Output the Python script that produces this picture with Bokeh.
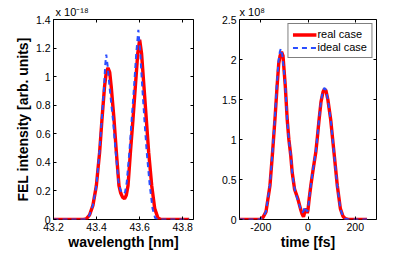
from bokeh.plotting import figure
from bokeh.layouts import row
from bokeh.models import (FixedTicker, LinearAxis, Legend, LegendItem,
                          CustomJSTickFormatter, Range1d)
from bokeh.embed import file_html
from bokeh.resources import INLINE

# ---- data ----
# left panel: spectrum (wavelength in nm, intensity in units of 1e-18)
wl_real = [43.20, 43.34, 43.352, 43.367, 43.383, 43.399, 43.414, 43.425, 43.437, 43.445,
           43.453, 43.461, 43.468, 43.481, 43.492, 43.504, 43.512, 43.521, 43.530, 43.538,
           43.546, 43.557, 43.569, 43.580, 43.591, 43.600, 43.609, 43.620, 43.631, 43.642,
           43.656, 43.670, 43.685, 43.70, 43.83]
int_real = [0, 0, 0.005, 0.03, 0.099, 0.237, 0.468, 0.70, 0.93, 1.03,
            1.062, 1.03, 0.93, 0.70, 0.468, 0.237, 0.185, 0.155, 0.146, 0.17,
            0.237, 0.468, 0.70, 0.93, 1.16, 1.259, 1.16, 0.93, 0.70, 0.468,
            0.237, 0.076, 0.01, 0, 0]
wl_ideal = [43.20, 43.34, 43.352, 43.367, 43.383, 43.399, 43.413, 43.424, 43.435, 43.440,
            43.445, 43.451, 43.460, 43.476, 43.489, 43.502, 43.510, 43.518, 43.525, 43.532,
            43.540, 43.552, 43.563, 43.574, 43.584, 43.594, 43.603, 43.612, 43.622, 43.633,
            43.647, 43.660, 43.672, 43.69, 43.83]
int_ideal = [0, 0, 0.005, 0.03, 0.099, 0.237, 0.468, 0.70, 0.93, 1.08,
             1.155, 1.08, 0.93, 0.70, 0.468, 0.26, 0.21, 0.185, 0.18, 0.19,
             0.26, 0.468, 0.70, 0.93, 1.16, 1.328, 1.16, 0.93, 0.70, 0.468,
             0.237, 0.076, 0.01, 0, 0]

# right panel: temporal profile (time in fs, power in units of 1e8)
t_real = [-290, -210, -200, -190, -178, -161, -150, -140, -131, -124,
          -118, -112, -106, -96, -88, -81, -73, -67, -57, -43,
          -32, -25, -19, -14, -8, -3, 0, 5, 12, 22,
          33, 40, 47, 55, 64, 70, 76, 84, 96, 110,
          124, 137, 148, 158, 170, 250]
p_real = [0, 0, 0.005, 0.03, 0.095, 0.425, 0.838, 1.25, 1.66, 1.946,
          2.05, 2.095, 2.05, 1.66, 1.25, 1.0, 0.80, 0.59, 0.38, 0.26,
          0.136, 0.07, 0.033, 0.09, 0.136, 0.08, 0.12, 0.26, 0.425, 0.63,
          0.84, 1.04, 1.25, 1.47, 1.60, 1.63, 1.61, 1.50, 1.25, 0.84,
          0.425, 0.136, 0.04, 0.01, 0, 0]
t_ideal = [-290, -210, -200, -190, -178, -161, -150, -140, -132, -125,
           -119, -115, -109, -100, -96, -88, -81, -73, -67, -60,
           -55, -43, -32, -25, -19, -14, -8, -3, 0, 5,
           12, 22, 33, 40, 47, 55, 63, 69, 76, 84,
           96, 110, 124, 137, 148, 158, 170, 250]
p_ideal = [0, 0, 0.005, 0.03, 0.10, 0.44, 0.86, 1.28, 1.68, 1.98,
           2.10, 2.136, 2.06, 1.80, 1.66, 1.25, 1.0, 0.80, 0.59, 0.44,
           0.36, 0.24, 0.14, 0.09, 0.10, 0.16, 0.12, 0.10, 0.13, 0.26,
           0.43, 0.64, 0.85, 1.05, 1.26, 1.48, 1.61, 1.645, 1.62, 1.50,
           1.25, 0.83, 0.42, 0.13, 0.04, 0.01, 0, 0]

x1_ticks = [43.2, 43.4, 43.6, 43.8]
y1_ticks = [0, 0.2, 0.4, 0.6, 0.8, 1, 1.2, 1.4]
x2_ticks = [-200, 0, 200]
y2_ticks = [0, 0.5, 1, 1.5, 2, 2.5]

x1_lim = (43.2, 43.85)
y1_lim = (0, 1.4)
x2_lim = (-290, 290)
y2_lim = (0, 2.5)

mult1 = "x 10\u207b\u00b9\u2078"   # x 10^-18
mult2 = "x 10\u2078"               # x 10^8
xlabel1 = "wavelength [nm]"
xlabel2 = "time [fs]"
ylabel1 = "FEL intensity [arb. units]"
labels = ["real case", "ideal case"]
colors = ["#ff0000", "#2a4dff"]

FONT = "Liberation Sans"
TICK_FS = "10.5px"
fmt_code = "return String(tick)"


def style(p, xt, yt, xlabel, mult, mult_offset):
    p.outline_line_color = "#000000"
    p.outline_line_width = 1
    p.background_fill_color = "white"
    p.border_fill_color = "white"
    p.grid.visible = False
    for ax in (p.xaxis[0], p.yaxis[0]):
        ax.axis_line_color = None
        ax.major_tick_in = 3
        ax.major_tick_out = 0
        ax.minor_tick_line_color = None
        ax.major_tick_line_color = "#000000"
        ax.major_label_text_font = FONT
        ax.major_label_text_font_size = TICK_FS
        ax.major_label_text_color = "#000000"
        ax.formatter = CustomJSTickFormatter(code=fmt_code)
        ax.axis_label_text_font = FONT
        ax.axis_label_text_font_style = "bold"
        ax.axis_label_text_font_size = "14px"
        ax.axis_label_text_color = "#000000"
    p.xaxis[0].ticker = FixedTicker(ticks=xt)
    p.yaxis[0].ticker = FixedTicker(ticks=yt)
    p.xaxis[0].major_label_standoff = 3
    p.yaxis[0].major_label_standoff = 3
    p.xaxis[0].axis_label = xlabel
    p.xaxis[0].axis_label_standoff = 0
    # mirrored ticks on top and right
    for loc, tks in (("above", xt), ("right", yt)):
        ax = LinearAxis(ticker=FixedTicker(ticks=tks),
                        formatter=CustomJSTickFormatter(code="return ''"))
        ax.axis_line_color = None
        ax.major_tick_in = 3
        ax.major_tick_out = 0
        ax.minor_tick_line_color = None
        ax.major_label_standoff = 0
        ax.major_label_text_font_size = "1px"
        p.add_layout(ax, loc)
    # exponent multiplier above the top-left corner
    p.title.text = mult
    p.title.align = "left"
    p.title.offset = mult_offset
    p.title.standoff = 3
    p.title.text_font = FONT
    p.title.text_font_size = "11px"
    p.title.text_font_style = "normal"
    p.title.text_color = "#000000"


# ---------- left panel ----------
p1 = figure(width=218, height=252, output_backend="svg", toolbar_location=None,
            x_range=Range1d(*x1_lim), y_range=Range1d(*y1_lim),
            min_border_left=53, min_border_right=25, min_border_top=19, min_border_bottom=31)
style(p1, x1_ticks, y1_ticks, xlabel1, mult1, 2)
p1.line(wl_real, int_real, line_color=colors[0], line_width=3.4)
p1.line(wl_ideal, int_ideal, line_color=colors[1], line_width=2, line_dash="5 4")
p1.yaxis[0].axis_label = ylabel1
p1.yaxis[0].axis_label_standoff = 2

# ---------- right panel ----------
p2 = figure(width=178, height=252, output_backend="svg", toolbar_location=None,
            x_range=Range1d(*x2_lim), y_range=Range1d(*y2_lim),
            min_border_left=19, min_border_right=20, min_border_top=19, min_border_bottom=31)
style(p2, x2_ticks, y2_ticks, xlabel2, mult2, 0)
r_real = p2.line(t_real, p_real, line_color=colors[0], line_width=3.4)
r_ideal = p2.line(t_ideal, p_ideal, line_color=colors[1], line_width=2, line_dash="5 4")

legend = Legend(items=[LegendItem(label=labels[0], renderers=[r_real]),
                       LegendItem(label=labels[1], renderers=[r_ideal])],
                location="top_right", margin=4, padding=4, spacing=1,
                glyph_width=24, glyph_height=11, label_height=11, label_standoff=1,
                label_text_font=FONT, label_text_font_size="11px", label_text_color="#000000",
                border_line_color="#000000", border_line_width=1,
                background_fill_color="white", background_fill_alpha=1)
p2.add_layout(legend)

layout = row(p1, p2)
open("out.html", "w").write(file_html(layout, INLINE))
